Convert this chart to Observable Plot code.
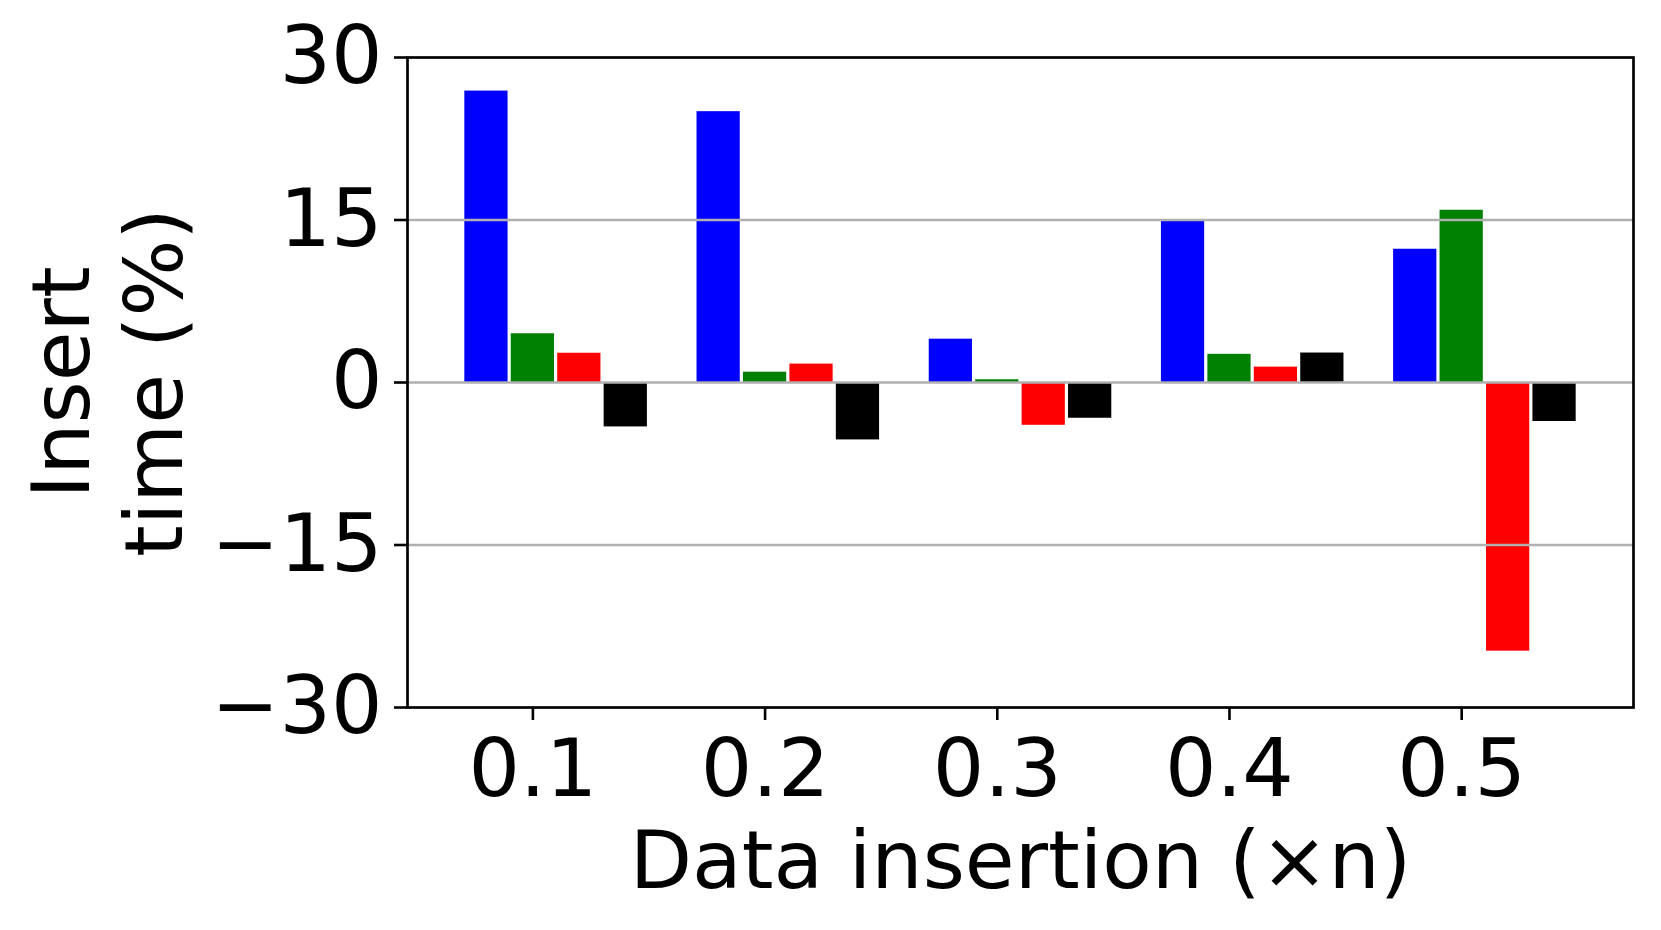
<!DOCTYPE html>
<html>
<head>
<meta charset="utf-8">
<script src="https://cdn.jsdelivr.net/npm/d3@7"></script>
<script src="https://cdn.jsdelivr.net/npm/@observablehq/plot@0.6"></script>
<style>
  html, body { margin: 0; padding: 0; background: #fff; }
  #chart svg { display: block; }
</style>
</head>
<body>
<div id="chart"></div>
<script>
// Categories (x tick labels)
const categories = ["0.1", "0.2", "0.3", "0.4", "0.5"];
// Series colours (matplotlib named colours)
const seriesColors = ["blue", "green", "red", "black"];
// Series values (Insert time, %)
const blueValues  = [26.9, 25.0, 4.0, 14.9, 12.3];
const greenValues = [4.5, 0.95, 0.25, 2.6, 15.9];
const redValues   = [2.7, 1.7, -3.95, 1.42, -24.8];
const blackValues = [-4.1, -5.3, -3.3, 2.72, -3.6];
const seriesValues = [blueValues, greenValues, redValues, blackValues];
// Y ticks
const yTicks = [-30, -15, 0, 15, 30];
const gridValues = [-15, 0, 15];
const xLabel = "Data insertion (×n)";
const yLabel = "Insert\ntime (%)";

// grouped bar layout (matplotlib style: bar width 0.2, centre offsets -1..2 widths)
const barWidth = 0.2;
const rows = [];
categories.forEach((c, i) => {
  seriesValues.forEach((vals, k) => {
    const center = i + (k - 1) * barWidth;
    rows.push({x1: center - barWidth / 2, x2: center + barWidth / 2, value: vals[i], color: seriesColors[k]});
  });
});

const fmt = v => v < 0 ? "\u2212" + Math.abs(v) : String(v);

const chart = Plot.plot({
  width: 1661,
  height: 930,
  marginLeft: 407,
  marginRight: 28,
  marginTop: 57,
  marginBottom: 223,
  style: {fontFamily: "'DejaVu Sans', sans-serif", background: "#fff"},
  x: {domain: [-0.54, 4.74], axis: null},
  y: {domain: [-30, 30], axis: null},
  color: {type: "identity"},
  marks: [
    Plot.rect(rows, {x1: "x1", x2: "x2", y1: 0, y2: "value", fill: "color", insetLeft: 1.6, insetRight: 1.6}),
    Plot.ruleY(gridValues, {stroke: "#b0b0b0", strokeWidth: 2.4}),
    Plot.axisY(yTicks, {tickSize: 13, tickPadding: 12, fontSize: 81, tickFormat: fmt, strokeWidth: 2.6, stroke: "black", fill: "black", label: null}),
    Plot.axisX([0, 1, 2, 3, 4], {tickSize: 13, tickPadding: 18, fontSize: 81, tickFormat: i => categories[i], strokeWidth: 2.6, stroke: "black", fill: "black", label: null}),
    Plot.frame({stroke: "black", strokeWidth: 2.7}),
    Plot.text([xLabel], {frameAnchor: "bottom", dy: 180, textAnchor: "middle", lineAnchor: "bottom", fontSize: 81, fill: "black", text: d => d}),
    Plot.text([yLabel], {frameAnchor: "left", dx: -302, rotate: -90, textAnchor: "middle", lineAnchor: "middle", lineHeight: 1.15, fontSize: 81, fill: "black", text: d => d})
  ]
});
document.getElementById("chart").appendChild(chart);
</script>
</body>
</html>
